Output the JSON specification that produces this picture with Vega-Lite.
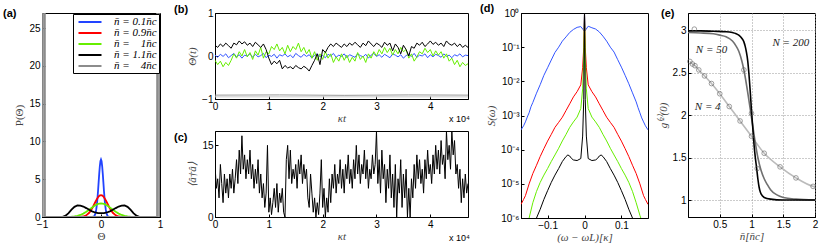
{
"$schema":"https://vega.github.io/schema/vega-lite/v6.json",
"background":"white",
"padding":{"left":2,"top":2,"right":2,"bottom":2},
"spacing":8,
"resolve":{"scale":{"color":"independent","strokeWidth":"independent"},"legend":{"color":"independent"}},
"config":{
 "font":"Liberation Sans",
 "view":{"stroke":"#000","strokeWidth":1},
 "axis":{"format":"~g","labelFont":"Liberation Sans","labelFontSize":10,"labelColor":"#000","titleFont":"Liberation Serif","titleFontSize":11,"titleFontWeight":"normal","titleFontStyle":"italic","titleColor":"#444","domainColor":"#000","tickColor":"#000","tickSize":-3,"labelPadding":5,"grid":false,"labelFlush":false,"labelOverlap":false},
 "axisX":{"titlePadding":1},
 "title":{"font":"Liberation Sans","fontSize":11,"fontWeight":"bold","color":"#000","anchor":"start","frame":"group"}
},
"datasets":{
"a":[
{"n":"0.1","x":-0.25,"y":0},{"n":"0.1","x":-0.16,"y":0},{"n":"0.1","x":-0.14,"y":0.02},{"n":"0.1","x":-0.12,"y":0.08},{"n":"0.1","x":-0.11,"y":0.17},{"n":"0.1","x":-0.1,"y":0.33},{"n":"0.1","x":-0.09,"y":0.6},{"n":"0.1","x":-0.08,"y":1.03},{"n":"0.1","x":-0.07,"y":1.64},{"n":"0.1","x":-0.06,"y":2.47},{"n":"0.1","x":-0.05,"y":3.48},{"n":"0.1","x":-0.04,"y":4.61},{"n":"0.1","x":-0.03,"y":5.74},{"n":"0.1","x":-0.02,"y":6.71},{"n":"0.1","x":-0.01,"y":7.37},{"n":"0.1","x":0,"y":7.6},{"n":"0.1","x":0.01,"y":7.37},{"n":"0.1","x":0.02,"y":6.71},{"n":"0.1","x":0.03,"y":5.74},{"n":"0.1","x":0.04,"y":4.61},{"n":"0.1","x":0.05,"y":3.48},{"n":"0.1","x":0.06,"y":2.47},{"n":"0.1","x":0.07,"y":1.64},{"n":"0.1","x":0.08,"y":1.03},{"n":"0.1","x":0.09,"y":0.6},{"n":"0.1","x":0.1,"y":0.33},{"n":"0.1","x":0.11,"y":0.17},{"n":"0.1","x":0.12,"y":0.08},{"n":"0.1","x":0.14,"y":0.02},{"n":"0.1","x":0.16,"y":0},{"n":"0.1","x":0.25,"y":0},
{"n":"0.9","x":-0.45,"y":0},{"n":"0.9","x":-0.4,"y":0},{"n":"0.9","x":-0.35,"y":0.02},{"n":"0.9","x":-0.3,"y":0.07},{"n":"0.9","x":-0.25,"y":0.22},{"n":"0.9","x":-0.2,"y":0.56},{"n":"0.9","x":-0.175,"y":0.82},{"n":"0.9","x":-0.15,"y":1.14},{"n":"0.9","x":-0.125,"y":1.52},{"n":"0.9","x":-0.1,"y":1.92},{"n":"0.9","x":-0.075,"y":2.3},{"n":"0.9","x":-0.05,"y":2.62},{"n":"0.9","x":-0.025,"y":2.83},{"n":"0.9","x":0,"y":2.9},{"n":"0.9","x":0.025,"y":2.83},{"n":"0.9","x":0.05,"y":2.62},{"n":"0.9","x":0.075,"y":2.3},{"n":"0.9","x":0.1,"y":1.92},{"n":"0.9","x":0.125,"y":1.52},{"n":"0.9","x":0.15,"y":1.14},{"n":"0.9","x":0.175,"y":0.82},{"n":"0.9","x":0.2,"y":0.56},{"n":"0.9","x":0.25,"y":0.22},{"n":"0.9","x":0.3,"y":0.07},{"n":"0.9","x":0.35,"y":0.02},{"n":"0.9","x":0.4,"y":0},{"n":"0.9","x":0.45,"y":0},
{"n":"1","x":-0.65,"y":0},{"n":"1","x":-0.6,"y":0},{"n":"1","x":-0.55,"y":0.01},{"n":"1","x":-0.5,"y":0.04},{"n":"1","x":-0.45,"y":0.08},{"n":"1","x":-0.4,"y":0.15},{"n":"1","x":-0.35,"y":0.27},{"n":"1","x":-0.3,"y":0.45},{"n":"1","x":-0.25,"y":0.69},{"n":"1","x":-0.2,"y":0.97},{"n":"1","x":-0.15,"y":1.27},{"n":"1","x":-0.1,"y":1.54},{"n":"1","x":-0.05,"y":1.73},{"n":"1","x":0,"y":1.8},{"n":"1","x":0.05,"y":1.73},{"n":"1","x":0.1,"y":1.54},{"n":"1","x":0.15,"y":1.27},{"n":"1","x":0.2,"y":0.97},{"n":"1","x":0.25,"y":0.69},{"n":"1","x":0.3,"y":0.45},{"n":"1","x":0.35,"y":0.27},{"n":"1","x":0.4,"y":0.15},{"n":"1","x":0.45,"y":0.08},{"n":"1","x":0.5,"y":0.04},{"n":"1","x":0.55,"y":0.01},{"n":"1","x":0.6,"y":0},{"n":"1","x":0.65,"y":0},
{"n":"1.1","x":-0.75,"y":0},{"n":"1.1","x":-0.7,"y":0},{"n":"1.1","x":-0.65,"y":0.03},{"n":"1.1","x":-0.6,"y":0.18},{"n":"1.1","x":-0.55,"y":0.52},{"n":"1.1","x":-0.5,"y":0.98},{"n":"1.1","x":-0.45,"y":1.35},{"n":"1.1","x":-0.4,"y":1.52},{"n":"1.1","x":-0.35,"y":1.5},{"n":"1.1","x":-0.3,"y":1.38},{"n":"1.1","x":-0.25,"y":1.18},{"n":"1.1","x":-0.2,"y":0.95},{"n":"1.1","x":-0.15,"y":0.75},{"n":"1.1","x":-0.1,"y":0.6},{"n":"1.1","x":-0.05,"y":0.52},{"n":"1.1","x":0,"y":0.5},{"n":"1.1","x":0.05,"y":0.52},{"n":"1.1","x":0.1,"y":0.6},{"n":"1.1","x":0.15,"y":0.75},{"n":"1.1","x":0.2,"y":0.95},{"n":"1.1","x":0.25,"y":1.18},{"n":"1.1","x":0.3,"y":1.38},{"n":"1.1","x":0.35,"y":1.5},{"n":"1.1","x":0.4,"y":1.52},{"n":"1.1","x":0.45,"y":1.35},{"n":"1.1","x":0.5,"y":0.98},{"n":"1.1","x":0.55,"y":0.52},{"n":"1.1","x":0.6,"y":0.18},{"n":"1.1","x":0.65,"y":0.03},{"n":"1.1","x":0.7,"y":0},{"n":"1.1","x":0.75,"y":0},
{"n":"4","x":-1,"y":0},{"n":"4","x":-0.985,"y":0},{"n":"4","x":-0.98,"y":100},{"n":"4","x":-0.955,"y":100},{"n":"4","x":-0.95,"y":0},{"n":"4","x":0.95,"y":0},{"n":"4","x":0.955,"y":100},{"n":"4","x":0.98,"y":100},{"n":"4","x":0.985,"y":0},{"n":"4","x":1,"y":0}
],
"b":[
{"s":"g1","x":0,"y":-0.91},{"s":"g1","x":1.2,"y":-0.905},{"s":"g1","x":2.4,"y":-0.915},{"s":"g1","x":3.6,"y":-0.905},{"s":"g1","x":4.7,"y":-0.91},
{"s":"g2","x":0,"y":-0.95},{"s":"g2","x":4.7,"y":-0.95},
{"s":"b","x":0,"y":0.02},{"s":"b","x":0.05,"y":-0.03},{"s":"b","x":0.1,"y":0.04},{"s":"b","x":0.15,"y":-0.01},{"s":"b","x":0.2,"y":0.05},{"s":"b","x":0.25,"y":-0.04},{"s":"b","x":0.3,"y":0.01},{"s":"b","x":0.35,"y":0.06},{"s":"b","x":0.4,"y":-0.02},{"s":"b","x":0.45,"y":0.03},{"s":"b","x":0.5,"y":-0.05},{"s":"b","x":0.55,"y":0.02},{"s":"b","x":0.6,"y":0},{"s":"b","x":0.65,"y":0.05},{"s":"b","x":0.7,"y":-0.03},{"s":"b","x":0.75,"y":0.04},{"s":"b","x":0.8,"y":-0.02},{"s":"b","x":0.85,"y":0.01},{"s":"b","x":0.9,"y":0.06},{"s":"b","x":0.95,"y":-0.04},
{"s":"b","x":1,"y":0.02},{"s":"b","x":1.05,"y":-0.01},{"s":"b","x":1.1,"y":0.04},{"s":"b","x":1.15,"y":-0.05},{"s":"b","x":1.2,"y":0.03},{"s":"b","x":1.25,"y":0},{"s":"b","x":1.3,"y":0.05},{"s":"b","x":1.35,"y":-0.02},{"s":"b","x":1.4,"y":0.02},{"s":"b","x":1.45,"y":-0.04},{"s":"b","x":1.5,"y":0.06},{"s":"b","x":1.55,"y":0.01},{"s":"b","x":1.6,"y":-0.03},{"s":"b","x":1.65,"y":0.04},{"s":"b","x":1.7,"y":-0.01},{"s":"b","x":1.75,"y":0.03},{"s":"b","x":1.8,"y":-0.05},{"s":"b","x":1.85,"y":0.02},{"s":"b","x":1.9,"y":0.05},{"s":"b","x":1.95,"y":-0.02},
{"s":"b","x":2,"y":0.01},{"s":"b","x":2.05,"y":-0.04},{"s":"b","x":2.1,"y":0.04},{"s":"b","x":2.15,"y":0},{"s":"b","x":2.2,"y":0.06},{"s":"b","x":2.25,"y":-0.03},{"s":"b","x":2.3,"y":0.02},{"s":"b","x":2.35,"y":-0.01},{"s":"b","x":2.4,"y":0.05},{"s":"b","x":2.45,"y":-0.04},{"s":"b","x":2.5,"y":0.03},{"s":"b","x":2.55,"y":0},{"s":"b","x":2.6,"y":-0.03},{"s":"b","x":2.65,"y":0.05},{"s":"b","x":2.7,"y":0.01},{"s":"b","x":2.75,"y":-0.02},{"s":"b","x":2.8,"y":0.04},{"s":"b","x":2.85,"y":-0.05},{"s":"b","x":2.9,"y":0.02},{"s":"b","x":2.95,"y":0.06},
{"s":"b","x":3,"y":-0.01},{"s":"b","x":3.05,"y":0.03},{"s":"b","x":3.1,"y":-0.03},{"s":"b","x":3.15,"y":0.04},{"s":"b","x":3.2,"y":0},{"s":"b","x":3.25,"y":-0.04},{"s":"b","x":3.3,"y":0.05},{"s":"b","x":3.35,"y":0.02},{"s":"b","x":3.4,"y":-0.02},{"s":"b","x":3.45,"y":0.03},{"s":"b","x":3.5,"y":-0.05},{"s":"b","x":3.55,"y":0.01},{"s":"b","x":3.6,"y":0.04},{"s":"b","x":3.65,"y":-0.01},{"s":"b","x":3.7,"y":0.06},{"s":"b","x":3.75,"y":-0.03},{"s":"b","x":3.8,"y":0.02},{"s":"b","x":3.85,"y":0},{"s":"b","x":3.9,"y":0.05},{"s":"b","x":3.95,"y":-0.04},
{"s":"b","x":4,"y":0.03},{"s":"b","x":4.05,"y":-0.02},{"s":"b","x":4.1,"y":0.04},{"s":"b","x":4.15,"y":0.01},{"s":"b","x":4.2,"y":-0.03},{"s":"b","x":4.25,"y":0.05},{"s":"b","x":4.3,"y":-0.01},{"s":"b","x":4.35,"y":0.02},{"s":"b","x":4.4,"y":-0.04},{"s":"b","x":4.45,"y":0.03},{"s":"b","x":4.5,"y":0},{"s":"b","x":4.55,"y":0.05},{"s":"b","x":4.6,"y":-0.02},{"s":"b","x":4.65,"y":0.02},{"s":"b","x":4.7,"y":0.01},
{"s":"gr","x":0,"y":-0.1},{"s":"gr","x":0.05,"y":-0.2},{"s":"gr","x":0.1,"y":-0.12},{"s":"gr","x":0.15,"y":-0.25},{"s":"gr","x":0.2,"y":-0.15},{"s":"gr","x":0.25,"y":-0.22},{"s":"gr","x":0.3,"y":-0.1},{"s":"gr","x":0.35,"y":0.05},{"s":"gr","x":0.4,"y":-0.05},{"s":"gr","x":0.45,"y":0.1},{"s":"gr","x":0.5,"y":0},{"s":"gr","x":0.55,"y":0.15},{"s":"gr","x":0.6,"y":-0.02},{"s":"gr","x":0.65,"y":0.08},{"s":"gr","x":0.7,"y":-0.08},{"s":"gr","x":0.75,"y":0.12},{"s":"gr","x":0.8,"y":0.02},{"s":"gr","x":0.85,"y":0.2},{"s":"gr","x":0.9,"y":-0.05},{"s":"gr","x":0.95,"y":0.1},
{"s":"gr","x":1,"y":0.05},{"s":"gr","x":1.05,"y":0.22},{"s":"gr","x":1.1,"y":0.15},{"s":"gr","x":1.15,"y":0.28},{"s":"gr","x":1.2,"y":0.12},{"s":"gr","x":1.25,"y":0.2},{"s":"gr","x":1.3,"y":0.05},{"s":"gr","x":1.35,"y":0.25},{"s":"gr","x":1.4,"y":0.1},{"s":"gr","x":1.45,"y":0.22},{"s":"gr","x":1.5,"y":0.15},{"s":"gr","x":1.55,"y":0.3},{"s":"gr","x":1.6,"y":0.1},{"s":"gr","x":1.65,"y":0.2},{"s":"gr","x":1.7,"y":0.05},{"s":"gr","x":1.75,"y":0.15},{"s":"gr","x":1.8,"y":-0.05},{"s":"gr","x":1.85,"y":0.1},{"s":"gr","x":1.9,"y":-0.1},{"s":"gr","x":1.95,"y":0.05},
{"s":"gr","x":2,"y":-0.08},{"s":"gr","x":2.05,"y":0.1},{"s":"gr","x":2.1,"y":-0.05},{"s":"gr","x":2.15,"y":0.05},{"s":"gr","x":2.2,"y":-0.15},{"s":"gr","x":2.25,"y":-0.02},{"s":"gr","x":2.3,"y":-0.12},{"s":"gr","x":2.35,"y":0.05},{"s":"gr","x":2.4,"y":-0.1},{"s":"gr","x":2.45,"y":0.02},{"s":"gr","x":2.5,"y":-0.15},{"s":"gr","x":2.55,"y":-0.03},{"s":"gr","x":2.6,"y":-0.12},{"s":"gr","x":2.65,"y":0.08},{"s":"gr","x":2.7,"y":-0.08},{"s":"gr","x":2.75,"y":0},{"s":"gr","x":2.8,"y":-0.15},{"s":"gr","x":2.85,"y":0.05},{"s":"gr","x":2.9,"y":-0.05},{"s":"gr","x":2.95,"y":0.1},
{"s":"gr","x":3,"y":0},{"s":"gr","x":3.05,"y":0.15},{"s":"gr","x":3.1,"y":0.05},{"s":"gr","x":3.15,"y":0.2},{"s":"gr","x":3.2,"y":0.08},{"s":"gr","x":3.25,"y":0.18},{"s":"gr","x":3.3,"y":0.02},{"s":"gr","x":3.35,"y":0.15},{"s":"gr","x":3.4,"y":0.05},{"s":"gr","x":3.45,"y":0.2},{"s":"gr","x":3.5,"y":0.1},{"s":"gr","x":3.55,"y":0.15},{"s":"gr","x":3.6,"y":-0.05},{"s":"gr","x":3.65,"y":0.05},{"s":"gr","x":3.7,"y":-0.12},{"s":"gr","x":3.75,"y":-0.02},{"s":"gr","x":3.8,"y":0.1},{"s":"gr","x":3.85,"y":0.05},{"s":"gr","x":3.9,"y":0.18},{"s":"gr","x":3.95,"y":0.08},
{"s":"gr","x":4,"y":0.15},{"s":"gr","x":4.05,"y":0},{"s":"gr","x":4.1,"y":0.12},{"s":"gr","x":4.15,"y":0.02},{"s":"gr","x":4.2,"y":0.1},{"s":"gr","x":4.25,"y":-0.05},{"s":"gr","x":4.3,"y":0.05},{"s":"gr","x":4.35,"y":-0.12},{"s":"gr","x":4.4,"y":-0.05},{"s":"gr","x":4.45,"y":-0.2},{"s":"gr","x":4.5,"y":-0.1},{"s":"gr","x":4.55,"y":-0.25},{"s":"gr","x":4.6,"y":-0.15},{"s":"gr","x":4.65,"y":-0.22},{"s":"gr","x":4.7,"y":-0.18},
{"s":"k","x":0,"y":0.25},{"s":"k","x":0.05,"y":0.2},{"s":"k","x":0.1,"y":0.28},{"s":"k","x":0.15,"y":0.22},{"s":"k","x":0.2,"y":0.3},{"s":"k","x":0.25,"y":0.24},{"s":"k","x":0.3,"y":0.18},{"s":"k","x":0.35,"y":0.3},{"s":"k","x":0.4,"y":0.26},{"s":"k","x":0.45,"y":0.35},{"s":"k","x":0.5,"y":0.28},{"s":"k","x":0.55,"y":0.33},{"s":"k","x":0.6,"y":0.25},{"s":"k","x":0.65,"y":0.3},{"s":"k","x":0.7,"y":0.22},{"s":"k","x":0.75,"y":0.32},{"s":"k","x":0.8,"y":0.26},{"s":"k","x":0.85,"y":0.2},{"s":"k","x":0.9,"y":0.28},{"s":"k","x":0.95,"y":0.15},
{"s":"k","x":1,"y":-0.05},{"s":"k","x":1.05,"y":-0.2},{"s":"k","x":1.1,"y":-0.12},{"s":"k","x":1.15,"y":-0.18},{"s":"k","x":1.2,"y":-0.1},{"s":"k","x":1.25,"y":-0.3},{"s":"k","x":1.3,"y":-0.22},{"s":"k","x":1.35,"y":-0.28},{"s":"k","x":1.4,"y":-0.25},{"s":"k","x":1.45,"y":-0.3},{"s":"k","x":1.5,"y":-0.22},{"s":"k","x":1.55,"y":-0.27},{"s":"k","x":1.6,"y":-0.3},{"s":"k","x":1.65,"y":-0.24},{"s":"k","x":1.7,"y":-0.28},{"s":"k","x":1.75,"y":-0.35},{"s":"k","x":1.8,"y":-0.22},{"s":"k","x":1.85,"y":-0.1},{"s":"k","x":1.9,"y":0.05},{"s":"k","x":1.95,"y":-0.2},
{"s":"k","x":2,"y":0.15},{"s":"k","x":2.05,"y":0.08},{"s":"k","x":2.1,"y":0.2},{"s":"k","x":2.15,"y":0.28},{"s":"k","x":2.2,"y":0.22},{"s":"k","x":2.25,"y":0.3},{"s":"k","x":2.3,"y":0.25},{"s":"k","x":2.35,"y":0.2},{"s":"k","x":2.4,"y":0.28},{"s":"k","x":2.45,"y":0.22},{"s":"k","x":2.5,"y":0.3},{"s":"k","x":2.55,"y":0.25},{"s":"k","x":2.6,"y":0.32},{"s":"k","x":2.65,"y":0.26},{"s":"k","x":2.7,"y":0.2},{"s":"k","x":2.75,"y":0.3},{"s":"k","x":2.8,"y":0.24},{"s":"k","x":2.85,"y":0.35},{"s":"k","x":2.9,"y":0.28},{"s":"k","x":2.95,"y":0.22},
{"s":"k","x":3,"y":0.3},{"s":"k","x":3.05,"y":0.26},{"s":"k","x":3.1,"y":0.2},{"s":"k","x":3.15,"y":0.32},{"s":"k","x":3.2,"y":0.25},{"s":"k","x":3.25,"y":0.3},{"s":"k","x":3.3,"y":0.12},{"s":"k","x":3.35,"y":0.28},{"s":"k","x":3.4,"y":0.2},{"s":"k","x":3.45,"y":0.05},{"s":"k","x":3.5,"y":0.25},{"s":"k","x":3.55,"y":0.15},{"s":"k","x":3.6,"y":0},{"s":"k","x":3.65,"y":0.22},{"s":"k","x":3.7,"y":0.18},{"s":"k","x":3.75,"y":0.3},{"s":"k","x":3.8,"y":0.25},{"s":"k","x":3.85,"y":0.32},{"s":"k","x":3.9,"y":0.22},{"s":"k","x":3.95,"y":0.28},
{"s":"k","x":4,"y":0.35},{"s":"k","x":4.05,"y":0.27},{"s":"k","x":4.1,"y":0.32},{"s":"k","x":4.15,"y":0.25},{"s":"k","x":4.2,"y":0.3},{"s":"k","x":4.25,"y":0.22},{"s":"k","x":4.3,"y":0.35},{"s":"k","x":4.35,"y":0.28},{"s":"k","x":4.4,"y":0.25},{"s":"k","x":4.45,"y":0.3},{"s":"k","x":4.5,"y":0.22},{"s":"k","x":4.55,"y":0.28},{"s":"k","x":4.6,"y":0.2},{"s":"k","x":4.65,"y":0.25},{"s":"k","x":4.7,"y":0.2}
],
"c":[
{"x":0,"y":11},{"x":0.025,"y":6},{"x":0.05,"y":8},{"x":0.075,"y":4},{"x":0.1,"y":11},{"x":0.125,"y":7},{"x":0.15,"y":3},{"x":0.175,"y":9},{"x":0.2,"y":5},{"x":0.225,"y":8},{"x":0.25,"y":4},{"x":0.275,"y":9},{"x":0.3,"y":6},{"x":0.325,"y":10},{"x":0.35,"y":5},{"x":0.375,"y":8},{"x":0.4,"y":12},{"x":0.425,"y":7},{"x":0.45,"y":14},{"x":0.475,"y":9},
{"x":0.5,"y":17},{"x":0.525,"y":10},{"x":0.55,"y":13},{"x":0.575,"y":8},{"x":0.6,"y":12},{"x":0.625,"y":9},{"x":0.65,"y":14},{"x":0.675,"y":8},{"x":0.7,"y":11},{"x":0.725,"y":6},{"x":0.75,"y":10},{"x":0.775,"y":7},{"x":0.8,"y":12},{"x":0.825,"y":5},{"x":0.85,"y":9},{"x":0.875,"y":4},{"x":0.9,"y":7},{"x":0.925,"y":2},{"x":0.95,"y":5},{"x":0.975,"y":15},
{"x":1,"y":1},{"x":1.025,"y":4},{"x":1.05,"y":0.5},{"x":1.075,"y":3},{"x":1.1,"y":6},{"x":1.125,"y":2},{"x":1.15,"y":7},{"x":1.175,"y":1},{"x":1.2,"y":5},{"x":1.225,"y":3},{"x":1.25,"y":6},{"x":1.275,"y":1},{"x":1.3,"y":0},{"x":1.325,"y":12},{"x":1.35,"y":15},{"x":1.375,"y":8},{"x":1.4,"y":14},{"x":1.425,"y":7},{"x":1.45,"y":10},{"x":1.475,"y":8},
{"x":1.5,"y":11},{"x":1.525,"y":6},{"x":1.55,"y":12},{"x":1.575,"y":9},{"x":1.6,"y":13},{"x":1.625,"y":7},{"x":1.65,"y":11},{"x":1.675,"y":8},{"x":1.7,"y":10},{"x":1.725,"y":4},{"x":1.75,"y":2},{"x":1.775,"y":9},{"x":1.8,"y":5},{"x":1.825,"y":1},{"x":1.85,"y":4},{"x":1.875,"y":0},{"x":1.9,"y":3},{"x":1.925,"y":0.5},{"x":1.95,"y":5},{"x":1.975,"y":12},
{"x":2,"y":2},{"x":2.025,"y":6},{"x":2.05,"y":0},{"x":2.075,"y":4},{"x":2.1,"y":1},{"x":2.125,"y":8},{"x":2.15,"y":3},{"x":2.175,"y":9},{"x":2.2,"y":6},{"x":2.225,"y":11},{"x":2.25,"y":5},{"x":2.275,"y":9},{"x":2.3,"y":7},{"x":2.325,"y":12},{"x":2.35,"y":6},{"x":2.375,"y":10},{"x":2.4,"y":5},{"x":2.425,"y":11},{"x":2.45,"y":8},{"x":2.475,"y":13},
{"x":2.5,"y":7},{"x":2.525,"y":10},{"x":2.55,"y":6},{"x":2.575,"y":12},{"x":2.6,"y":8},{"x":2.625,"y":15},{"x":2.65,"y":9},{"x":2.675,"y":13},{"x":2.7,"y":7},{"x":2.725,"y":11},{"x":2.75,"y":9},{"x":2.775,"y":14},{"x":2.8,"y":8},{"x":2.825,"y":12},{"x":2.85,"y":6},{"x":2.875,"y":10},{"x":2.9,"y":8},{"x":2.925,"y":13},{"x":2.95,"y":9},{"x":2.975,"y":11},
{"x":3,"y":18},{"x":3.025,"y":7},{"x":3.05,"y":12},{"x":3.075,"y":5},{"x":3.1,"y":14},{"x":3.125,"y":8},{"x":3.15,"y":11},{"x":3.175,"y":3},{"x":3.2,"y":10},{"x":3.225,"y":6},{"x":3.25,"y":13},{"x":3.275,"y":4},{"x":3.3,"y":9},{"x":3.325,"y":2},{"x":3.35,"y":11},{"x":3.375,"y":0},{"x":3.4,"y":8},{"x":3.425,"y":5},{"x":3.45,"y":12},{"x":3.475,"y":2},
{"x":3.5,"y":9},{"x":3.525,"y":4},{"x":3.55,"y":10},{"x":3.575,"y":0},{"x":3.6,"y":6},{"x":3.625,"y":0},{"x":3.65,"y":8},{"x":3.675,"y":4},{"x":3.7,"y":11},{"x":3.725,"y":6},{"x":3.75,"y":13},{"x":3.775,"y":8},{"x":3.8,"y":12},{"x":3.825,"y":7},{"x":3.85,"y":10},{"x":3.875,"y":5},{"x":3.9,"y":12},{"x":3.925,"y":8},{"x":3.95,"y":14},{"x":3.975,"y":9},
{"x":4,"y":11},{"x":4.025,"y":7},{"x":4.05,"y":13},{"x":4.075,"y":9},{"x":4.1,"y":15},{"x":4.125,"y":10},{"x":4.15,"y":14},{"x":4.175,"y":9},{"x":4.2,"y":16},{"x":4.225,"y":11},{"x":4.25,"y":13},{"x":4.275,"y":8},{"x":4.3,"y":18},{"x":4.325,"y":12},{"x":4.35,"y":15},{"x":4.375,"y":10},{"x":4.4,"y":18},{"x":4.425,"y":13},{"x":4.45,"y":16},{"x":4.475,"y":9},
{"x":4.5,"y":11},{"x":4.525,"y":6},{"x":4.55,"y":10},{"x":4.575,"y":3},{"x":4.6,"y":8},{"x":4.625,"y":4},{"x":4.65,"y":9},{"x":4.675,"y":5},{"x":4.7,"y":7}
],
"d":[
{"s":"b","x":-0.172,"y":3.8e-4},{"s":"b","x":-0.165,"y":5e-4},{"s":"b","x":-0.16,"y":6.5e-4},{"s":"b","x":-0.155,"y":9e-4},{"s":"b","x":-0.15,"y":1.2e-3},{"s":"b","x":-0.145,"y":1.8e-3},{"s":"b","x":-0.14,"y":2.4e-3},{"s":"b","x":-0.13,"y":4.5e-3},{"s":"b","x":-0.12,"y":8e-3},{"s":"b","x":-0.11,"y":0.015},{"s":"b","x":-0.1,"y":0.025},{"s":"b","x":-0.09,"y":0.042},{"s":"b","x":-0.08,"y":0.07},{"s":"b","x":-0.07,"y":0.1},{"s":"b","x":-0.06,"y":0.15},{"s":"b","x":-0.05,"y":0.2},{"s":"b","x":-0.04,"y":0.27},{"s":"b","x":-0.03,"y":0.33},{"s":"b","x":-0.02,"y":0.38},{"s":"b","x":-0.01,"y":0.4},{"s":"b","x":-0.004,"y":0.33},{"s":"b","x":-0.002,"y":0.3},{"s":"b","x":0,"y":1},{"s":"b","x":0.002,"y":0.3},{"s":"b","x":0.004,"y":0.33},{"s":"b","x":0.01,"y":0.41},{"s":"b","x":0.02,"y":0.37},{"s":"b","x":0.03,"y":0.34},{"s":"b","x":0.04,"y":0.28},{"s":"b","x":0.05,"y":0.21},{"s":"b","x":0.06,"y":0.15},{"s":"b","x":0.07,"y":0.1},{"s":"b","x":0.08,"y":0.072},{"s":"b","x":0.09,"y":0.043},{"s":"b","x":0.1,"y":0.026},{"s":"b","x":0.11,"y":0.015},{"s":"b","x":0.12,"y":8.5e-3},{"s":"b","x":0.13,"y":4.6e-3},{"s":"b","x":0.14,"y":2.5e-3},{"s":"b","x":0.145,"y":1.7e-3},{"s":"b","x":0.15,"y":1.2e-3},{"s":"b","x":0.155,"y":8.5e-4},{"s":"b","x":0.16,"y":6.5e-4},{"s":"b","x":0.165,"y":5e-4},{"s":"b","x":0.172,"y":3.8e-4},
{"s":"r","x":-0.172,"y":2.5e-6},{"s":"r","x":-0.165,"y":3.5e-6},{"s":"r","x":-0.16,"y":4.5e-6},{"s":"r","x":-0.15,"y":1e-5},{"s":"r","x":-0.14,"y":2e-5},{"s":"r","x":-0.13,"y":3.5e-5},{"s":"r","x":-0.12,"y":6.3e-5},{"s":"r","x":-0.11,"y":1.07e-4},{"s":"r","x":-0.1,"y":1.78e-4},{"s":"r","x":-0.09,"y":2.8e-4},{"s":"r","x":-0.08,"y":4.5e-4},{"s":"r","x":-0.07,"y":6.3e-4},{"s":"r","x":-0.06,"y":8.9e-4},{"s":"r","x":-0.05,"y":1.4e-3},{"s":"r","x":-0.04,"y":2.2e-3},{"s":"r","x":-0.03,"y":3.5e-3},{"s":"r","x":-0.02,"y":5e-3},{"s":"r","x":-0.01,"y":7.9e-3},{"s":"r","x":-0.005,"y":0.025},{"s":"r","x":-0.002,"y":0.1},{"s":"r","x":0,"y":1},{"s":"r","x":0.002,"y":0.1},{"s":"r","x":0.005,"y":0.025},{"s":"r","x":0.01,"y":7.9e-3},{"s":"r","x":0.02,"y":5e-3},{"s":"r","x":0.03,"y":3.5e-3},{"s":"r","x":0.04,"y":2.2e-3},{"s":"r","x":0.05,"y":1.4e-3},{"s":"r","x":0.06,"y":8.9e-4},{"s":"r","x":0.07,"y":6.3e-4},{"s":"r","x":0.08,"y":4.5e-4},{"s":"r","x":0.09,"y":2.8e-4},{"s":"r","x":0.1,"y":1.78e-4},{"s":"r","x":0.11,"y":1.07e-4},{"s":"r","x":0.12,"y":6.3e-5},{"s":"r","x":0.13,"y":3.5e-5},{"s":"r","x":0.14,"y":2e-5},{"s":"r","x":0.15,"y":1e-5},{"s":"r","x":0.16,"y":4.5e-6},{"s":"r","x":0.165,"y":3.5e-6},{"s":"r","x":0.172,"y":2.5e-6},
{"s":"g","x":-0.165,"y":4e-7},{"s":"g","x":-0.15,"y":1e-6},{"s":"g","x":-0.14,"y":2.8e-6},{"s":"g","x":-0.13,"y":6e-6},{"s":"g","x":-0.12,"y":1.1e-5},{"s":"g","x":-0.11,"y":1.8e-5},{"s":"g","x":-0.1,"y":2.8e-5},{"s":"g","x":-0.09,"y":4.5e-5},{"s":"g","x":-0.08,"y":7e-5},{"s":"g","x":-0.07,"y":1.1e-4},{"s":"g","x":-0.06,"y":1.8e-4},{"s":"g","x":-0.05,"y":2.8e-4},{"s":"g","x":-0.04,"y":4.5e-4},{"s":"g","x":-0.03,"y":6.5e-4},{"s":"g","x":-0.02,"y":9e-4},{"s":"g","x":-0.01,"y":1.6e-3},{"s":"g","x":-0.005,"y":6e-3},{"s":"g","x":-0.002,"y":0.05},{"s":"g","x":0,"y":1},{"s":"g","x":0.002,"y":0.05},{"s":"g","x":0.005,"y":6e-3},{"s":"g","x":0.01,"y":1.6e-3},{"s":"g","x":0.02,"y":9e-4},{"s":"g","x":0.03,"y":6.5e-4},{"s":"g","x":0.04,"y":4.5e-4},{"s":"g","x":0.05,"y":2.8e-4},{"s":"g","x":0.06,"y":1.8e-4},{"s":"g","x":0.07,"y":1.1e-4},{"s":"g","x":0.08,"y":7e-5},{"s":"g","x":0.09,"y":4.5e-5},{"s":"g","x":0.1,"y":2.8e-5},{"s":"g","x":0.11,"y":1.8e-5},{"s":"g","x":0.12,"y":1.1e-5},{"s":"g","x":0.13,"y":6e-6},{"s":"g","x":0.14,"y":2.8e-6},{"s":"g","x":0.15,"y":1.2e-6},{"s":"g","x":0.165,"y":4e-7},
{"s":"k","x":-0.14,"y":5e-7},{"s":"k","x":-0.13,"y":1e-6},{"s":"k","x":-0.12,"y":1.8e-6},{"s":"k","x":-0.11,"y":3.5e-6},{"s":"k","x":-0.1,"y":6.3e-6},{"s":"k","x":-0.09,"y":1.1e-5},{"s":"k","x":-0.08,"y":1.8e-5},{"s":"k","x":-0.07,"y":2.8e-5},{"s":"k","x":-0.06,"y":4.5e-5},{"s":"k","x":-0.05,"y":6.3e-5},{"s":"k","x":-0.045,"y":7e-5},{"s":"k","x":-0.04,"y":6.5e-5},{"s":"k","x":-0.035,"y":5.5e-5},{"s":"k","x":-0.03,"y":5e-5},{"s":"k","x":-0.02,"y":4.8e-5},{"s":"k","x":-0.01,"y":5.5e-5},{"s":"k","x":-0.005,"y":2.5e-4},{"s":"k","x":-0.002,"y":3e-3},{"s":"k","x":0,"y":1},{"s":"k","x":0.002,"y":3e-3},{"s":"k","x":0.005,"y":2.5e-4},{"s":"k","x":0.01,"y":5.5e-5},{"s":"k","x":0.02,"y":4.8e-5},{"s":"k","x":0.03,"y":5e-5},{"s":"k","x":0.035,"y":5.5e-5},{"s":"k","x":0.04,"y":6.5e-5},{"s":"k","x":0.045,"y":7e-5},{"s":"k","x":0.05,"y":6.3e-5},{"s":"k","x":0.06,"y":4.5e-5},{"s":"k","x":0.07,"y":2.8e-5},{"s":"k","x":0.08,"y":1.8e-5},{"s":"k","x":0.09,"y":1.1e-5},{"s":"k","x":0.1,"y":6.3e-6},{"s":"k","x":0.11,"y":3.5e-6},{"s":"k","x":0.12,"y":1.8e-6},{"s":"k","x":0.13,"y":1e-6},{"s":"k","x":0.14,"y":5e-7}
],
"e":[
{"s":"N4","x":0.03,"y":2.63},{"s":"N4","x":0.07,"y":2.6},{"s":"N4","x":0.11,"y":2.58},{"s":"N4","x":0.17,"y":2.53},{"s":"N4","x":0.26,"y":2.46},{"s":"N4","x":0.37,"y":2.37},{"s":"N4","x":0.5,"y":2.25},{"s":"N4","x":0.65,"y":2.1},{"s":"N4","x":0.82,"y":1.93},{"s":"N4","x":1,"y":1.75},{"s":"N4","x":1.2,"y":1.55},{"s":"N4","x":1.45,"y":1.39},{"s":"N4","x":1.7,"y":1.26},{"s":"N4","x":1.97,"y":1.16},{"s":"N4","x":2,"y":1.155},
{"s":"N50","x":0,"y":2.97},{"s":"N50","x":0.2,"y":2.965},{"s":"N50","x":0.4,"y":2.955},{"s":"N50","x":0.5,"y":2.94},{"s":"N50","x":0.6,"y":2.92},{"s":"N50","x":0.7,"y":2.87},{"s":"N50","x":0.75,"y":2.82},{"s":"N50","x":0.8,"y":2.75},{"s":"N50","x":0.85,"y":2.63},{"s":"N50","x":0.88,"y":2.53},{"s":"N50","x":0.9,"y":2.45},{"s":"N50","x":0.95,"y":2.22},{"s":"N50","x":1,"y":1.97},{"s":"N50","x":1.05,"y":1.72},{"s":"N50","x":1.1,"y":1.5},{"s":"N50","x":1.15,"y":1.35},{"s":"N50","x":1.2,"y":1.25},{"s":"N50","x":1.25,"y":1.18},{"s":"N50","x":1.3,"y":1.12},{"s":"N50","x":1.4,"y":1.06},{"s":"N50","x":1.5,"y":1.03},{"s":"N50","x":1.7,"y":1.01},{"s":"N50","x":2,"y":1},
{"s":"N200","x":0,"y":2.99},{"s":"N200","x":0.2,"y":2.99},{"s":"N200","x":0.4,"y":2.985},{"s":"N200","x":0.6,"y":2.98},{"s":"N200","x":0.7,"y":2.97},{"s":"N200","x":0.75,"y":2.96},{"s":"N200","x":0.8,"y":2.94},{"s":"N200","x":0.85,"y":2.9},{"s":"N200","x":0.88,"y":2.86},{"s":"N200","x":0.9,"y":2.81},{"s":"N200","x":0.92,"y":2.74},{"s":"N200","x":0.94,"y":2.64},{"s":"N200","x":0.96,"y":2.48},{"s":"N200","x":0.98,"y":2.28},{"s":"N200","x":1,"y":2.05},{"s":"N200","x":1.02,"y":1.85},{"s":"N200","x":1.04,"y":1.65},{"s":"N200","x":1.06,"y":1.5},{"s":"N200","x":1.08,"y":1.38},{"s":"N200","x":1.1,"y":1.25},{"s":"N200","x":1.12,"y":1.15},{"s":"N200","x":1.14,"y":1.09},{"s":"N200","x":1.17,"y":1.05},{"s":"N200","x":1.2,"y":1.03},{"s":"N200","x":1.3,"y":1.01},{"s":"N200","x":1.5,"y":1},{"s":"N200","x":2,"y":1}
],
"ep":[
{"x":0.03,"y":2.63},{"x":0.07,"y":2.6},{"x":0.11,"y":2.58},{"x":0.17,"y":2.53},{"x":0.26,"y":2.46},{"x":0.37,"y":2.37},{"x":0.5,"y":2.25},{"x":0.65,"y":2.1},{"x":0.82,"y":1.93},{"x":1,"y":1.75},{"x":1.2,"y":1.55},{"x":1.45,"y":1.39},{"x":1.7,"y":1.26},{"x":1.97,"y":1.16},
{"x":0.1,"y":3.01},{"x":0.88,"y":2.53},{"x":1,"y":2.02},{"x":1.09,"y":1.37}
],
"et":[
{"x":1.62,"y":2.85,"t":"N = 200"},{"x":0.37,"y":2.76,"t":"N = 50"},{"x":0.31,"y":2.09,"t":"N = 4"}
]
},
"hconcat":[
{"hconcat":[
 {"width":118,"height":204,
  "title":{"text":"(a)","dx":-39,"offset":-6},
  "data":{"name":"a"},
  "mark":{"type":"line","strokeWidth":1.8,"clip":true},
  "encoding":{
   "x":{"field":"x","type":"quantitative","scale":{"domain":[-1,1],"nice":false},"axis":{"values":[-1,0,1],"title":"Θ","titleFontStyle":"normal"}},
   "y":{"field":"y","type":"quantitative","scale":{"domain":[0,27],"nice":false},"axis":{"values":[0,5,10,15,20,25],"title":"P(Θ)","titleFontStyle":"normal"}},
   "color":{"field":"n","type":"nominal","scale":{"domain":["0.1","0.9","1","1.1","4"],"range":["#2244ff","#ff0000","#66ee00","#000000","#8c8c8c"]},
    "legend":{"orient":"top-right","offset":1,"title":null,"strokeColor":"#000","fillColor":"#fff","padding":2,"symbolType":"M -2.3 0 L 2.3 0","symbolSize":100,"symbolStrokeWidth":2,"symbolOffset":9,"labelOffset":18,"labelFont":"Liberation Serif","labelFontStyle":"italic","labelFontSize":11,"rowPadding":0,"labelLimit":200,
     "labelExpr":"'n\u0304 = ' + (datum.label == '1' || datum.label == '4' ? '\u2007\u2008' + datum.label : datum.label) + 'n\u0304c'"}}
  }
 },
 {"vconcat":[
  {"width":253,"height":86,
   "title":{"text":"(b)","dx":-41,"offset":-7},
   "layer":[
    {"data":{"name":"b"},
     "mark":{"type":"line","strokeWidth":1,"clip":true},
     "encoding":{
      "x":{"field":"x","type":"quantitative","scale":{"domain":[0,4.7],"nice":false},"axis":{"values":[0,1,2,3,4],"title":"κt"}},
      "y":{"field":"y","type":"quantitative","scale":{"domain":[-1,1],"nice":false},"axis":{"values":[-1,-0.5,0,0.5,1],"title":"Θ(t)"}},
      "color":{"field":"s","type":"nominal","scale":{"domain":["g1","g2","b","gr","k"],"range":["#999999","#c8c8c8","#3355ff","#66ee00","#000000"]},"legend":null}
     }},
    {"data":{"values":[{"t":"x 10⁴"}]},
     "mark":{"type":"text","align":"right","baseline":"top","dx":2,"dy":16,"fontSize":9,"font":"Liberation Sans"},
     "encoding":{"x":{"datum":4.7},"y":{"datum":-1},"text":{"field":"t"}}}
   ]},
  {"width":253,"height":86,
   "title":{"text":"(c)","dx":-41,"offset":-12},
   "layer":[
    {"data":{"name":"c"},
     "mark":{"type":"line","strokeWidth":1,"color":"#000","clip":true},
     "encoding":{
      "x":{"field":"x","type":"quantitative","scale":{"domain":[0,4.7],"nice":false},"axis":{"values":[0,1,2,3,4],"title":"κt"}},
      "y":{"field":"y","type":"quantitative","scale":{"domain":[0,18],"nice":false},"axis":{"values":[0,5,10,15],"title":"⟨â†â⟩"}}
     }},
    {"data":{"values":[{"t":"x 10⁴"}]},
     "mark":{"type":"text","align":"right","baseline":"top","dx":2,"dy":17,"fontSize":9,"font":"Liberation Sans"},
     "encoding":{"x":{"datum":4.7},"y":{"datum":0},"text":{"field":"t"}}}
   ]}
  ],"spacing":5}
 ],"spacing":9,"resolve":{"scale":{"color":"independent"},"legend":{"color":"independent"}}},
{"hconcat":[
 {"width":127,"height":205,
  "title":{"text":"(d)","dx":-41,"offset":-6},
  "data":{"name":"d"},
  "mark":{"type":"line","strokeWidth":1,"clip":true},
  "encoding":{
   "x":{"field":"x","type":"quantitative","scale":{"domain":[-0.172,0.172],"nice":false,"zero":false},"axis":{"values":[-0.1,0,0.1],"title":"(ω − ωL)[κ]"}},
   "y":{"field":"y","type":"quantitative","scale":{"type":"log","domain":[1e-6,1],"nice":false},"axis":{"values":[1e-6,1e-5,1e-4,1e-3,1e-2,1e-1,1],"labelExpr":"'10' + ['⁻⁶','⁻⁵','⁻⁴','⁻³','⁻²','⁻¹','⁰'][round(log(datum.value)/LN10)+6]","title":"S(ω)"}},
   "color":{"field":"s","type":"nominal","scale":{"domain":["b","r","g","k"],"range":["#3355ff","#ff0000","#66ee00","#000000"]},"legend":null}
  }
 },
 {"width":127,"height":204,
  "title":{"text":"(e)","dx":-27,"offset":-6},
  "layer":[
   {"data":{"name":"e"},
    "mark":{"type":"line","interpolate":"monotone","clip":true},
    "encoding":{
     "x":{"field":"x","type":"quantitative","scale":{"domain":[0,2],"nice":false},"axis":{"values":[0.5,1,1.5,2],"title":"n̄[n̄c]","grid":true,"gridDash":[1,2],"gridColor":"#999"}},
     "y":{"field":"y","type":"quantitative","scale":{"domain":[0.8,3.2],"nice":false,"zero":false},"axis":{"values":[1,1.5,2,2.5,3],"title":"g⁽²⁾(0)","grid":true,"gridDash":[1,2],"gridColor":"#999"}},
     "color":{"field":"s","type":"nominal","scale":{"domain":["N4","N50","N200"],"range":["#bbbbbb","#707070","#000000"]},"legend":null},
     "strokeWidth":{"field":"s","type":"nominal","scale":{"domain":["N4","N50","N200"],"range":[1.6,1.6,2]},"legend":null}
    }},
   {"data":{"name":"ep"},
    "mark":{"type":"point","shape":"circle","filled":false,"size":22,"color":"#555","strokeWidth":0.8},
    "encoding":{"x":{"field":"x","type":"quantitative"},"y":{"field":"y","type":"quantitative"}}},
   {"data":{"name":"et"},
    "mark":{"type":"text","font":"Liberation Serif","fontStyle":"italic","fontSize":11,"color":"#222"},
    "encoding":{"x":{"field":"x","type":"quantitative"},"y":{"field":"y","type":"quantitative"},"text":{"field":"t"}}}
  ]}
 ],"spacing":7,"resolve":{"scale":{"color":"independent","strokeWidth":"independent"},"legend":{"color":"independent"}}}
]
}
